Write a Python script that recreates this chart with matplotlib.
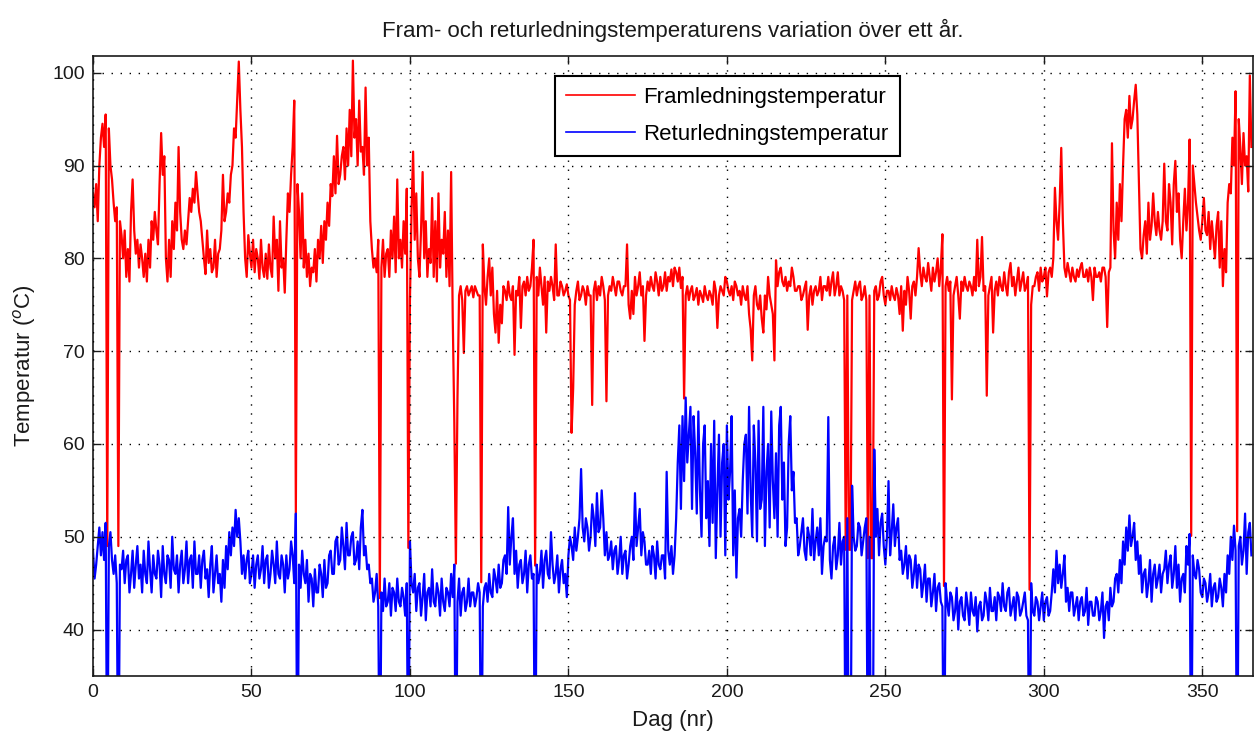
import numpy as np
import matplotlib
matplotlib.use("Agg")
import matplotlib.pyplot as plt

plt.rcParams['font.family'] = ['Liberation Sans', 'DejaVu Sans']

# Half-day samples (two values per day)
fram_a = [  # days 0-60
    87, 85.5, 88, 84, 90, 93, 94.5, 92, 95.5, 49,
    94, 90, 88.5, 86, 84, 85.5, 49, 84, 82.5, 80,
    83, 78, 81, 77.5, 85, 88.5, 83, 80.5, 82, 79,
    81.5, 80, 78, 80.5, 77.5, 82, 79, 84, 82, 85,
    83, 81.5, 88, 93.5, 89, 91, 80, 77.5, 82, 78,
    84, 81, 86, 83, 92, 85, 82, 81, 83, 81.5,
    84, 86.5, 85, 87.5, 86, 89.3, 87, 85, 84, 82,
    80, 78.3, 83, 79.5, 81, 78.5, 79, 82, 78, 80.5,
    81, 83, 89, 84, 85, 87, 86, 89, 90, 94,
    93, 97, 101.2, 96, 92, 85, 80, 78, 82.5, 80.5,
    79, 82, 78.5, 81, 80, 77.8, 82, 79, 78, 80.5,
    77.8, 81.5, 79, 78, 84.5, 80, 82, 76.5, 84, 79,
    80, 76.3]
fram_b = [  # days 61-121
    82, 87, 85, 89, 92, 97, 52.5, 88, 85, 80,
    87, 79, 82, 78, 80.5, 77, 79, 78.5, 81, 77.5,
    82, 80, 83.5, 79.5, 84, 82, 86, 83.5, 88, 86.7,
    91, 87, 93.2, 88, 89, 91, 92, 88.5, 94, 90,
    96, 91, 101.3, 93, 95, 90, 97, 91.5, 92, 89,
    98.4, 90, 93, 84, 81, 79, 80, 78.5, 82, 43.4,
    79, 82, 78, 80.5, 81, 78, 83, 80, 84.5, 78.5,
    88.5, 80, 82, 79, 84, 80.5, 87.5, 48.8, 75.5, 85,
    91.5, 82, 87, 80, 78, 83, 89.3, 80, 84, 78,
    81, 79.5, 86.5, 78, 84, 77.5, 87, 79, 82, 80.5,
    85, 78, 83, 77, 89.3, 73.7, 62.3, 47.1, 65, 76,
    77, 75.5, 69.8, 76.5, 77, 76, 76.5, 77, 75.8, 77,
    76.5, 76]
fram_c = [  # days 122-182
    76, 45.1, 81.5, 77, 75, 78, 80, 76, 79, 74,
    72, 76.5, 70.9, 75, 73, 77, 76.5, 75.5, 77.5, 76,
    75.5, 77, 69.6, 76.5, 76, 78, 72.5, 77, 77.5, 76,
    78, 76.5, 77, 79, 82, 46.9, 78, 76, 79, 77,
    75, 78, 72, 77.5, 76.5, 78, 77, 75.5, 81.5, 76,
    76, 77.5, 77, 76, 76.5, 77.2, 76, 75.5, 61.2, 66,
    75, 76.5, 77.5, 75.5, 76, 77, 76.5, 75, 77, 76,
    76, 64.2, 76.5, 77.5, 75.5, 77, 76, 78, 77, 75.5,
    64.6, 76, 77, 76.5, 78, 77, 76, 77.5, 77.5, 76.5,
    76, 77, 77, 81.5, 75, 73.5, 76.5, 74, 78, 76,
    77, 78.5, 76, 77, 71.1, 76, 77.5, 76.5, 78, 77,
    76.5, 78.5, 77.5, 76, 78, 76.5, 77, 78.5, 76.5, 78,
    77.5, 78.8]
fram_d = [  # days 183-243
    77, 79, 78.5, 77.5, 79, 76.8, 78, 64.9, 76, 77,
    75.5, 76.5, 77, 75.5, 76, 76.8, 75, 76.5, 76, 75.3,
    77, 76, 75.5, 76.5, 76, 75, 77.5, 76.5, 72.5, 76,
    77, 76.5, 76, 78, 77.5, 76.5, 76, 77, 75.5, 77.5,
    77, 76, 76.5, 75, 77, 76, 75.5, 77, 74, 72.4,
    69, 76, 77, 75, 74.5, 76, 73.5, 72, 76, 74.5,
    78, 76, 75, 74, 69, 79.8, 77, 78.5, 79, 77.5,
    77, 78, 76.5, 77.5, 77, 79, 78, 76.5, 76.5, 77,
    77, 75.5, 76, 76.8, 77.5, 72.3, 76, 77, 75, 76.5,
    77, 76, 76.5, 78, 75.5, 77, 77, 76.5, 78, 76,
    77.5, 78.5, 76, 77, 78.5, 76, 77, 76.5, 75.5, 48.6,
    76, 48.6, 48.6, 75.5, 76.5, 77.5, 76, 77, 77.5, 75.5,
    76, 77]
fram_e = [  # days 244-304
    75.5, 47.7, 76, 47.7, 47.7, 76.5, 77, 75.5, 76, 77.5,
    78, 76, 75, 76.5, 76.5, 75.5, 77, 76, 75.5, 76.8,
    76, 74, 77, 72.2, 76.5, 75, 78, 76.5, 73.5, 77,
    77.5, 76, 78, 81.1, 78.5, 77, 79, 78, 77.5, 79.5,
    78, 76.5, 79, 77.5, 78.5, 80, 77, 79, 82.6, 44.7,
    77, 78, 76.5, 77.5, 64.8, 76, 77, 78, 76, 73.5,
    77.5, 76.5, 78, 77, 76.5, 77.5, 77, 76, 78, 76.5,
    82, 77, 78, 82.3, 76.5, 77, 65.2, 76, 77, 78,
    72, 76.5, 77.5, 76, 78, 77, 76.5, 78.5, 77, 76,
    78.5, 79.5, 77, 78, 76, 77.5, 79, 76.5, 77.5, 78.5,
    76.5, 77, 78, 44.3, 75, 77, 77, 78, 78.5, 76.5,
    79, 77.5, 78, 79, 75.9, 78.5, 79, 78, 80, 87.6,
    84, 82]
fram_f = [  # days 305-365
    86, 91.9, 84, 79, 78, 79.5, 78.5, 77.5, 79, 78,
    77.5, 78.8, 78, 79, 79.5, 78, 78, 78.8, 77.5, 79,
    78, 75.5, 79, 78, 78, 78.5, 77.5, 79, 79, 78,
    72.6, 78.5, 79, 92.4, 83, 80, 86, 82, 88, 84,
    90, 95, 96, 93, 97.5, 94, 95, 97, 98.7, 95.5,
    88, 81, 80, 82.5, 84, 80.5, 86, 82, 83.5, 87,
    84, 82.5, 85, 83, 82, 84, 90.2, 84, 83, 88,
    86, 81.5, 88, 90.5, 85, 87, 82, 80, 84, 87.5,
    83, 86, 92.8, 50.1, 90, 88, 86, 84.5, 83, 82,
    84, 86.5, 83, 82.5, 85, 81, 84, 82, 80, 83.5,
    85, 79, 84, 77, 81, 78.5, 86, 88, 87, 93,
    90, 98, 50.6, 95, 92, 88, 93.5, 90, 91, 87.2,
    99.7, 92]

retur_a = [  # days 0-60
    48.5, 45.5, 47, 49, 51, 48, 50.5, 47.5, 51.5, 20,
    49, 50.5, 47.5, 46, 48, 45, 20, 47, 46.5, 48.5,
    45, 47.5, 48, 44, 46, 48.5, 44.5, 47, 49, 45.5,
    47, 44, 48.5, 46, 45, 49.5, 46.5, 44, 48, 46,
    45.5, 48.5, 47, 43.5, 49, 46, 45, 48, 47.5, 44.5,
    50, 46.5, 46, 48, 44, 47, 48.5, 45, 46.5, 49.5,
    45, 47.5, 48, 44.5, 49.5, 46, 46, 48, 44.5, 47.5,
    48.5, 45.5, 46.5, 43.5, 47, 49, 44, 46, 48, 45,
    46, 43, 47.5, 44.5, 49, 46.5, 50.5, 48, 51, 49,
    52.9, 50, 52, 49.5, 46, 48, 45.5, 47.5, 48.5, 45,
    46, 48, 44.5, 47, 48, 45.5, 46.5, 49, 45, 47.5,
    48, 44.5, 46, 48.5, 47, 45, 49.5, 46, 45.5, 48,
    47, 44]
retur_b = [  # days 61-121
    48, 45.5, 46.5, 49.5, 48, 45, 52.5, 20, 47, 44.5,
    48.5, 46, 45, 47.5, 43, 46, 45.5, 42.5, 46.5, 44,
    44, 47, 46, 43.5, 47.5, 44.5, 45, 48, 48.5, 46,
    46, 49.5, 50, 47, 47.5, 51, 49, 46.5, 51.5, 48,
    48, 50, 50.5, 47, 47.5, 49.5, 46.5, 51, 52.9, 48,
    49, 46.5, 47, 45, 45.5, 43, 44, 46, 42.5, 20,
    44, 42, 45.5, 42.5, 43, 45, 41.5, 44.5, 44, 42,
    45.5, 43, 42.5, 44.5, 43.5, 41.5, 45, 20, 49.5, 45,
    44, 46, 42, 44.5, 45, 41.5, 43.5, 46, 41, 44,
    44.5, 42.5, 46.5, 43, 42.5, 45, 44, 41.5, 45.5, 43,
    42, 44.5, 44, 42.5, 46, 43.5, 47, 20, 43, 45.5,
    41.5, 44, 44.5, 42, 43, 45.5, 42.5, 44, 44, 42.5,
    43.5, 45]
retur_c = [  # days 122-182
    44, 20, 42.5, 44.5, 45, 43, 46, 44, 43.5, 46.5,
    45.5, 44, 47, 44.5, 45, 47.5, 48, 46, 53.2, 47,
    50, 52, 46, 48.5, 44.5, 47, 47.5, 45, 46, 48.5,
    44, 47, 48, 45.5, 46, 20, 47, 45, 46, 48.5,
    44.5, 47.5, 48.5, 46, 45.5, 50.5, 47, 45, 46, 48,
    44, 46.5, 47.5, 45, 46, 43.5, 48, 50, 49, 47.5,
    51, 48.5, 50, 52, 57.3, 51, 49.5, 52, 51, 48.5,
    50, 53.5, 52, 49, 54.7, 50.5, 51, 55, 52, 48,
    50.5, 47.5, 48, 49.5, 46.5, 48.5, 49, 46, 47.5, 50,
    46, 48, 48.5, 45.5, 47, 49, 50, 47.5, 54.7, 49,
    51, 53, 48, 50.5, 49.5, 47, 47, 48.5, 46, 49,
    48, 45.5, 49.5, 47, 46.5, 48, 48, 45.5, 57, 48.5,
    47, 49]
retur_d = [  # days 183-243
    46, 48, 52, 58, 62, 53, 63, 56, 65, 58,
    61, 64, 53, 63, 59, 52.5, 63.5, 55, 50, 60,
    62, 52, 56, 49, 60, 51.5, 62.5, 47.7, 55, 61,
    50, 58, 60, 48, 62, 54, 57, 63, 48, 55,
    45.6, 52, 53, 50, 56, 60, 61, 52.5, 64, 55,
    50, 62, 58, 49.5, 62.5, 53, 54, 64, 49, 57,
    60, 51, 63.5, 56, 52, 59, 50, 62, 64, 54,
    58, 49, 51, 60, 63, 55, 57, 51.5, 52, 48,
    49, 50.5, 52, 48.5, 47.5, 51, 50, 48, 53, 47.5,
    49.5, 51, 48, 52, 46, 49, 50, 49.5, 62.9, 47.5,
    45.5, 49, 50, 46.5, 48, 51.5, 47, 49.5, 50, 20,
    52, 20, 20, 55.5, 50, 48.5, 49, 51.5, 51, 48,
    49.5, 51]
retur_e = [  # days 244-304
    52, 20, 50, 20, 20, 59.4, 50, 53, 48, 51.5,
    52.5, 49, 47, 50, 56, 48, 50.5, 53.5, 49, 51,
    52, 47.5, 48.5, 46, 47, 49, 45.5, 48, 47.5, 44.5,
    46, 48, 44.5, 47, 46.5, 43.5, 45, 47, 43, 45.5,
    45.5, 42.5, 44, 46, 42, 44.5, 45, 43, 42.5, 20,
    45, 43, 41.5, 44, 43.5, 41, 42, 44.5, 40, 43,
    43.5, 41.5, 41, 44, 42.5, 40.5, 44, 42, 41.5, 43.5,
    39.8, 42.5, 43, 41, 41.5, 44, 43, 41, 44.5, 42,
    42, 43.5, 41, 44, 43.5, 42, 45, 42.5, 42, 44,
    44.5, 41.5, 42.5, 43.5, 41, 44, 43.5, 41.5, 42, 43,
    44, 41.5, 41, 20, 45, 42, 41.5, 43.5, 43, 41,
    42.5, 44, 41, 43, 43.5, 41.5, 42, 44, 46.5, 44,
    48.5, 45]
retur_f = [  # days 305-365
    47, 44.5, 46, 48, 43, 44.5, 42, 44, 44, 41.5,
    42.5, 43.5, 41, 43, 43.5, 41.5, 42, 44.5, 40.5, 43,
    43, 41.5, 41.5, 43.5, 43, 41, 42, 44, 39.1, 42.5,
    43, 41, 44.5, 42.5, 43, 45.5, 46, 44, 47.5, 45,
    49.5, 47, 51, 48.5, 52.3, 49, 50, 51.5, 47.5, 49.5,
    46, 48, 44, 46, 46.5, 43.5, 45, 47.5, 43, 46,
    47, 44.5, 45.5, 47, 44, 46, 46.5, 48.5, 45, 47,
    48, 44.5, 46, 49, 44.5, 47, 43, 45.5, 46, 44,
    49, 47, 50.3, 20, 48, 46, 45.5, 47.5, 46.5, 44,
    43.5, 45.5, 45, 43, 44, 46, 42.5, 44.5, 45, 43,
    43.5, 45.5, 44.5, 42.5, 46, 44, 48, 46, 50, 47.5,
    51.2, 48.5, 20, 49, 50, 47, 48.5, 52.5, 46, 50.5,
    51.5, 48]

fram = np.array(fram_a + fram_b + fram_c + fram_d + fram_e + fram_f, dtype=float)
retur = np.array(retur_a + retur_b + retur_c + retur_d + retur_e + retur_f, dtype=float)
x_fram = np.arange(len(fram)) * 0.5
x_retur = np.arange(len(retur)) * 0.5

x_ticks = [0, 50, 100, 150, 200, 250, 300, 350]
y_ticks = [40, 50, 60, 70, 80, 90, 100]

fig = plt.figure(figsize=(12.55, 7.44), dpi=100)
ax = fig.add_axes([93 / 1255, 68 / 744, 1160 / 1255, 620 / 744])

ax.plot(x_fram, fram, color='#ff0000', lw=1.6, label='Framledningstemperatur')
ax.plot(x_retur, retur, color='#0000ff', lw=1.6, label='Returledningstemperatur')

ax.set_xlim(0, 366)
ax.set_ylim(35, 101.8)
ax.set_xticks(x_ticks)
ax.set_yticks(y_ticks)
ax.set_axisbelow(False)
ax.grid(True, color='black', linestyle=(0, (1, 5.5)), linewidth=1.0)
ax.tick_params(direction='in', top=True, right=True, length=6, width=1.0,
               labelsize=14, pad=6, colors='#1a1a1a', labelcolor='#1a1a1a')
for sp in ax.spines.values():
    sp.set_linewidth(1.2)
    sp.set_color('#1a1a1a')

ax.set_title('Fram- och returledningstemperaturens variation över ett år.',
             fontsize=16, pad=14, color='#1a1a1a')
ax.set_xlabel('Dag (nr)', fontsize=16, labelpad=6, color='#1a1a1a')
ax.set_ylabel('Temperatur ($^{o}$C)', fontsize=16, labelpad=10, color='#1a1a1a')

leg = ax.legend(loc='upper left', bbox_to_anchor=(0.398, 0.968), fontsize=16,
                frameon=True, fancybox=False, edgecolor='black', framealpha=1,
                handlelength=3.1, handletextpad=0.4, borderpad=0.5,
                labelspacing=0.7, borderaxespad=0)
leg.get_frame().set_linewidth(1.5)
for h in leg.get_lines():
    h.set_linewidth(1.2)

fig.savefig('out.png', dpi=100)
